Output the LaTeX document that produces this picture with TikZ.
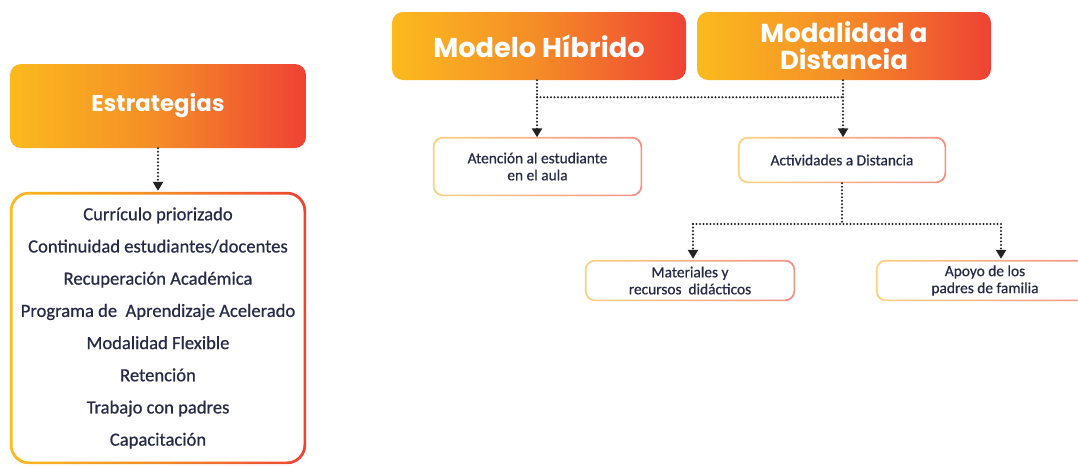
\documentclass[tikz,border=0pt]{standalone}
\usepackage{fontspec}
\setmainfont{Carlito}
\newfontfamily\lfont{Carlito}[FakeBold=0.6]
\newfontfamily\headfont{Poppins}
\usetikzlibrary{arrows.meta,backgrounds,calc}
\definecolor{gY}{HTML}{FBBA1E}
\definecolor{gO}{HTML}{F48C28}
\definecolor{gR}{HTML}{EE4234}
\definecolor{lY}{HTML}{FBD27E}
\definecolor{lR}{HTML}{F19085}
\definecolor{ink}{HTML}{262A48}
\definecolor{dotc}{HTML}{222222}
\tikzset{
  head/.style={rounded corners=11pt, left color=gY, right color=gR, middle color=gO,
    text=white, font=\headfont\bfseries, align=center, inner sep=0pt},
  panel/.style={rounded corners=#1, fill=white, inner sep=0pt, align=center, text=ink},
  dotline/.style={draw=dotc, line width=2.2pt, dash pattern=on 0pt off 3.5pt, line cap=round},
  tip/.style={-{Triangle[width=10pt,length=9pt]}, shorten >=1pt},
}
\begin{document}
\begin{tikzpicture}[x=1pt,y=-1pt]
\path[use as bounding box] (0,0) rectangle (1078,466);
\clip (0,0) rectangle (1078,466);

% headers
\node[head, minimum width=296pt, minimum height=84pt, font=\headfont\bfseries\fontsize{22.8}{26}\selectfont] (est) at (158,106) {Estrategias};
\node[head, minimum width=294pt, minimum height=68pt, font=\headfont\bfseries\fontsize{27.2}{30}\selectfont] (mh) at (539,46) {Modelo Híbrido};
\node[head, minimum width=294pt, minimum height=68pt, font=\headfont\bfseries\fontsize{26}{27}\selectfont] (md) at (844,46) {Modalidad a\\Distancia};

% list panel
\node[panel=17pt, minimum width=291pt, minimum height=267pt, font=\lfont\fontsize{18.6}{32.2}\selectfont] (list) at (158,328)
{Currículo priorizado\\Continuidad estudiantes/docentes\\Recuperación Académica\\Programa de\ \ Aprendizaje Acelerado\\Modalidad Flexible\\Retención\\Trabajo con padres\\Capacitación};

% small panels
\node[panel=9pt, minimum width=206pt, minimum height=56pt, font=\lfont\fontsize{15.4}{17}\selectfont] (aten) at (537.5,166.5) {Atención al estudiante\\en el aula};
\node[panel=9pt, minimum width=205pt, minimum height=43pt, font=\lfont\fontsize{15.4}{17}\selectfont] (act) at (842,160) {Actividades a Distancia};
\node[panel=9pt, minimum width=207pt, minimum height=38pt, font=\lfont\fontsize{15.4}{17}\selectfont] (mat) at (690,280.5) {Materiales y\\recursos\ \ didácticos};
\node[panel=9pt, minimum width=215pt, minimum height=38pt, font=\lfont\fontsize{15.4}{17}\selectfont] (apo) at (985,280.5) {Apoyo de los\\padres de familia};

\begin{scope}[on background layer]
  \fill[white] (0,0) rectangle (1078,466);
  \shade[left color=gY, right color=gR, middle color=gO, rounded corners=19pt]
    ($(list.north west)+(-2.5,-2.5)$) rectangle ($(list.south east)+(2.5,2.5)$);
  \foreach \n in {aten,act,mat,apo}{
    \shade[left color=lY, right color=lR, rounded corners=10pt]
      ($(\n.north west)+(-1.5,-1.5)$) rectangle ($(\n.south east)+(1.5,1.5)$);
  }
\end{scope}

% connectors
\draw[dotline, tip] (est.south) -- ($(list.north)+(0,-2.5)$);

\coordinate (j1) at ($(mh.south)+(-2,17)$);
\coordinate (j2) at ($(md.south)+(-1,17)$);
\draw[dotline] ($(mh.south)+(-2,0)$) -- (j1);
\draw[dotline] ($(md.south)+(-1,0)$) -- (j2);
\draw[dotline] (j1) -- (j2);
\draw[dotline, tip] (j1) -- (j1 |- aten.north);
\draw[dotline, tip] (j2) -- (j2 |- act.north);

\coordinate (k0) at ($(act.south)+(0,41)$);
\coordinate (k1) at (693,224);
\coordinate (k2) at (1001,224);
\draw[dotline] ($(act.south)+(0,1.5)$) -- (k0);
\draw[dotline] (k1) -- (k2);
\draw[dotline, tip] (k1) -- ($(k1 |- mat.north)+(0,-1.5)$);
\draw[dotline, tip] (k2) -- ($(k2 |- apo.north)+(0,-1.5)$);
\end{tikzpicture}
\end{document}
